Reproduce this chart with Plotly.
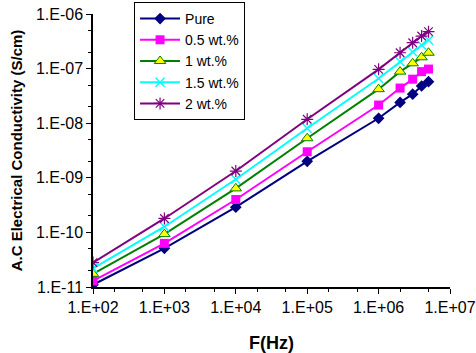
import plotly.graph_objects as go

# frequency points (Hz)
freq = [1e2, 1e3, 1e4, 1e5, 1e6, 2e6, 3e6, 4e6, 5e6]

# A.C conductivity (S/cm)
pure = [1.1e-11, 5.1e-11, 2.9e-10, 2.0e-9, 1.23e-8, 2.4e-8, 3.4e-8, 4.8e-8, 5.75e-8]
wt05 = [1.29e-11, 6.3e-11, 4.0e-10, 3.0e-9, 2.15e-8, 4.4e-8, 6.4e-8, 8.8e-8, 9.8e-8]
wt1 = [1.74e-11, 9.3e-11, 6.4e-10, 5.3e-9, 4.2e-8, 8.8e-8, 1.25e-7, 1.61e-7, 1.95e-7]
wt15 = [2.2e-11, 1.27e-10, 9.4e-10, 8.1e-9, 6.6e-8, 1.34e-7, 2.04e-7, 2.7e-7, 3.34e-7]
wt2 = [2.8e-11, 1.8e-10, 1.33e-9, 1.18e-8, 9.7e-8, 1.95e-7, 2.98e-7, 3.95e-7, 4.74e-7]

x_ticks = [1e2, 1e3, 1e4, 1e5, 1e6, 1e7]
x_labels = ['1.E+02', '1.E+03', '1.E+04', '1.E+05', '1.E+06', '1.E+07']
y_ticks = [1e-11, 1e-10, 1e-9, 1e-8, 1e-7, 1e-6]
y_labels = ['1.E-11', '1.E-10', '1.E-09', '1.E-08', '1.E-07', '1.E-06']

fig = go.Figure()

#series: name, values, line colour, marker settings
series = [
    ('Pure', pure, '#000080', dict(symbol='diamond', size=9, color='#000080')),
    ('0.5 wt.%', wt05, '#FF00FF', dict(symbol='square', size=9, color='#FF00FF')),
    ('1 wt.%', wt1, '#008000', dict(symbol='triangle-up', size=10, color='#FFFF00',
                                    line=dict(color='#008000', width=1))),
    ('1.5 wt.%', wt15, '#00FFFF', dict(symbol='x-thin-open', size=9, color='#00FFFF',
                                      line=dict(color='#00FFFF', width=1.5))),
    ('2 wt.%', wt2, '#800080', dict(symbol='asterisk-open', size=10, color='#800080',
                                   line=dict(color='#800080', width=1.2))),
]
for name, vals, col, mk in series:
    fig.add_trace(go.Scatter(x=freq, y=vals, name=name, mode='lines+markers',
                             line=dict(color=col, width=2), marker=mk))

fig.update_layout(
    width=476, height=353,
    margin=dict(l=93, r=26, t=14, b=66, autoexpand=False),
    plot_bgcolor='white', paper_bgcolor='white',
    font=dict(family='Liberation Sans, Arial', size=16, color='black'),
    showlegend=True,
    legend=dict(x=0.115, y=1.044, xanchor='left', yanchor='top',
                bordercolor='black', borderwidth=1, bgcolor='white',
                font=dict(size=14), tracegroupgap=0, itemwidth=40),
)
fig.update_xaxes(
    type='log', range=[2, 7], tickvals=x_ticks, ticktext=x_labels,
    showline=True, linecolor='black', linewidth=1.5, showgrid=False, zeroline=False,
    ticks='outside', ticklen=5, tickcolor='black',
    minor=dict(ticks='outside', ticklen=3, tickcolor='black', showgrid=False),
    title=dict(text='<b>F(Hz)</b>', font=dict(size=18), standoff=22),
)
fig.update_yaxes(
    type='log', range=[-11, -6], tickvals=y_ticks, ticktext=y_labels,
    showline=True, linecolor='black', linewidth=1.5, showgrid=False, zeroline=False,
    ticks='outside', ticklen=5, tickcolor='black',
    minor=dict(ticks='outside', ticklen=3, tickcolor='black', showgrid=False),
    title=dict(text='<b>A.C Electrical Conductivity (S/cm)</b>', font=dict(size=15), standoff=10),
)

# page body has a default 8px margin, drop it so the chart sits at the corner
fig.write_html("out.html", config={'displayModeBar': False},
               post_script="document.body.style.margin='0';")
